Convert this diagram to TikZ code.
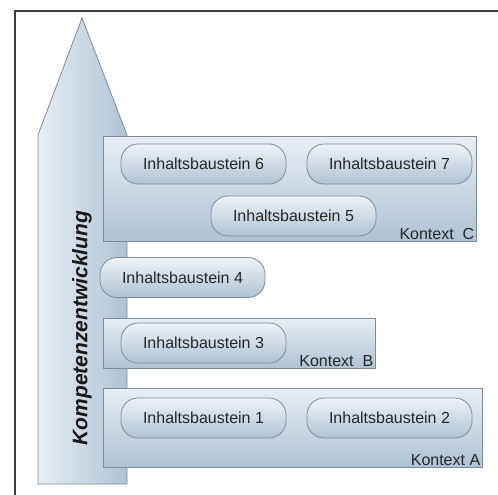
\documentclass[tikz,border=0pt]{standalone}
\usepackage{fontspec}
\setmainfont{Liberation Sans}
\usetikzlibrary{positioning}
\definecolor{paleblue}{HTML}{E8EEF5}
\definecolor{steelblue}{HTML}{AFC3D4}
\definecolor{edgegray}{HTML}{7D8C99}
\definecolor{framegray}{HTML}{3C3C3C}

\begin{document}
\begin{tikzpicture}[
    x=1pt, y=-1pt,
    kontext/.style={
        draw=edgegray,
        line width=0.8pt,
        top color=paleblue,
        bottom color=steelblue,
        inner sep=0pt
    },
    baustein/.style={
        draw=edgegray,
        line width=0.8pt,
        rounded corners=17pt,
        top color=paleblue!70!white,
        bottom color=steelblue,
        minimum width=165pt,
        minimum height=40pt,
        inner sep=0pt,
        font=\fontsize{16}{18}\selectfont,
        text=black!85
    },
    klabel/.style={
        anchor=south east,
        inner sep=2pt,
        font=\fontsize{16}{18}\selectfont,
        text=black!85
    }
]

% --- BOUNDS AND FRAME ---
\useasboundingbox (0,0) rectangle (498,495);
\draw[framegray, line width=1.4pt] (15,495) -- (15,11) -- (498,11);

% --- ARROW ---
\path[draw=edgegray, line width=0.8pt, left color=paleblue, right color=steelblue]
    (38,484) -- (38,135) -- (82,18) -- (127,135) -- (127,484) -- cycle;
\node[rotate=90, font=\fontsize{21}{24}\selectfont\bfseries\itshape, text=black!90]
    (kompetenz) at (82,328) {Kompetenzentwicklung};

% --- KONTEXT C ---
\node[kontext, minimum width=373pt, minimum height=105pt] (ctxC) at (289.5,188.5) {};
\node[baustein] (ib6) at (203.5,164) {Inhaltsbaustein 6};
\node[baustein] (ib7) at (389.5,164) {Inhaltsbaustein 7};
\node[baustein] (ib5) at (293.5,216) {Inhaltsbaustein 5};
\node[klabel] (lblC) at (ctxC.south east) {Kontext~~C};

% --- BAUSTEIN 4 ---
\node[baustein] (ib4) at (182.5,277.5) {Inhaltsbaustein 4};

% --- KONTEXT B ---
\node[kontext, minimum width=272pt, minimum height=50pt] (ctxB) at (239,343) {};
\node[baustein] (ib3) at (203.5,343) {Inhaltsbaustein 3};
\node[klabel] (lblB) at (ctxB.south east) {Kontext~~B};

% --- KONTEXT A ---
\node[kontext, minimum width=379pt, minimum height=79pt] (ctxA) at (292.5,427.5) {};
\node[baustein] (ib1) at (203.5,418) {Inhaltsbaustein 1};
\node[baustein] (ib2) at (389.5,418) {Inhaltsbaustein 2};
\node[klabel] (lblA) at (ctxA.south east) {Kontext A};

\end{tikzpicture}
\end{document}
